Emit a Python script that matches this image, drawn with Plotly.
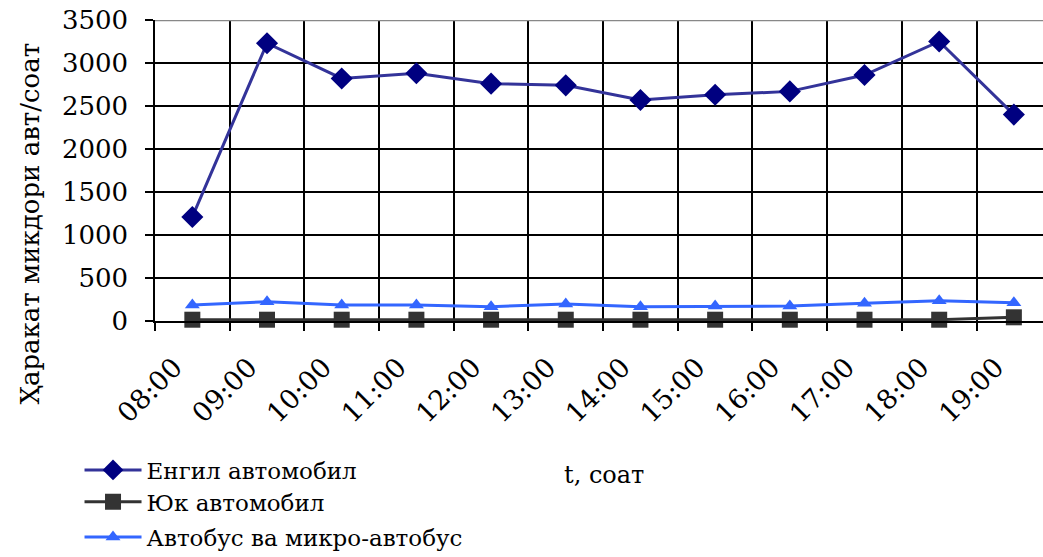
import plotly.graph_objects as go

hours = ["08:00", "09:00", "10:00", "11:00", "12:00", "13:00",
         "14:00", "15:00", "16:00", "17:00", "18:00", "19:00"]
engil = [1210, 3230, 2820, 2880, 2760, 2740, 2570, 2630, 2670, 2860, 3250, 2400]
yuk = [15, 15, 15, 15, 15, 15, 15, 15, 15, 15, 15, 43]
avtobus = [186, 224, 186, 186, 166, 198, 166, 174, 174, 205, 236, 213]

FONT = "DejaVu Serif"

fig = go.Figure()
fig.add_trace(go.Scatter(
    x=hours, y=engil, name="Енгил автомобил", mode="lines+markers",
    line=dict(color="#333399", width=3), cliponaxis=False, legend="legend",
    marker=dict(symbol="diamond", size=17, color="#000080"),
))
fig.add_trace(go.Scatter(
    x=hours, y=yuk, name="Юк автомобил", mode="lines+markers",
    line=dict(color="#333333", width=3), cliponaxis=False, legend="legend2",
    marker=dict(symbol="square", size=16, color="#333333"),
))
fig.add_trace(go.Scatter(
    x=hours, y=avtobus, name="Автобус ва микро-автобус", mode="lines+markers",
    line=dict(color="#3366FF", width=3), cliponaxis=False, legend="legend3",
    marker=dict(symbol="triangle-up", size=13, color="#3366FF"),
))

fig.add_shape(type="line", xref="paper", yref="y", x0=0, x1=1, y0=3500, y1=3500,
              line=dict(color="#888888", width=2.5), layer="above")

fig.add_annotation(text="t, соат", xref="paper", yref="paper", x=0.506, y=-0.512,
                   xanchor="center", yanchor="middle", showarrow=False,
                   font=dict(family=FONT, size=24, color="black"))

fig.add_annotation(text="Ҳаракат микдори авт/соат", xref="paper", yref="paper",
                   x=-0.141, y=0.323, xanchor="center", yanchor="middle",
                   textangle=-90, showarrow=False,
                   font=dict(family=FONT, size=26, color="black"))

leg_common = dict(x=-0.085, xanchor="left", yanchor="middle",
                  font=dict(family=FONT, size=23, color="black"),
                  itemwidth=57, bgcolor="rgba(0,0,0,0)")

fig.update_layout(
    width=1043, height=557,
    margin=dict(l=155, r=0, t=20, b=236, autoexpand=False),
    paper_bgcolor="white", plot_bgcolor="white",
    font=dict(family=FONT, size=24, color="black"),
    showlegend=True,
    legend=dict(y=-0.495, **leg_common),
    legend2=dict(y=-0.601, **leg_common),
    legend3=dict(y=-0.718, **leg_common),
    xaxis=dict(
        type="category", categoryorder="array", categoryarray=hours,
        range=[-0.5, 11.39], tickson="boundaries", automargin=False,
        showgrid=True, gridcolor="black", gridwidth=1.5,
        ticks="outside", ticklen=8, tickcolor="black", tickwidth=1.5,
        tickangle=-45, tickfont=dict(family=FONT, size=27),
        ticklabelstandoff=18, ticklabelshift=-18,
        showline=True, linecolor="black", linewidth=1.5,
        zeroline=False,
    ),
    yaxis=dict(
        range=[0, 3500], dtick=500, tick0=0, automargin=False,
        showgrid=True, gridcolor="black", gridwidth=1.5,
        ticks="outside", ticklen=8, tickcolor="black", tickwidth=1.5,
        tickfont=dict(family=FONT, size=26), ticklabelstandoff=12,
        showline=True, linecolor="black", linewidth=1.5,
        zeroline=False,
    ),
)

fig.write_html("out.html", config={"displayModeBar": False},
               post_script="document.body.style.margin='0';")
